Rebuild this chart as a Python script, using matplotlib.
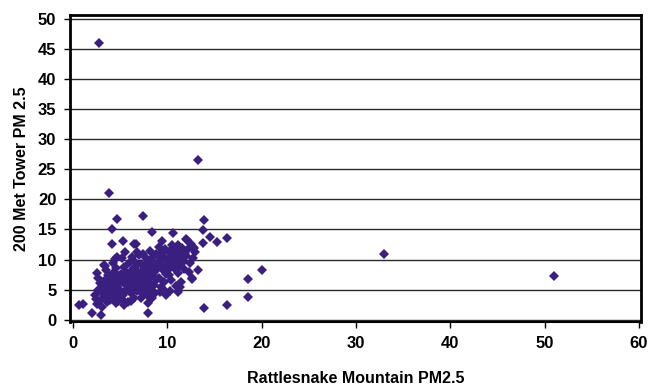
import matplotlib.pyplot as plt

# PM2.5 paired readings: Rattlesnake Mountain (x) vs 200 Met Tower (y)
rattlesnake = [
    2.8, 13.3, 3.85, 33.0, 51.0, 20.0, 18.5, 18.6, 16.3, 13.9, 16.3, 13.9, 13.8, 15.3, 14.5,
    12.1, 12.7, 13.8, 7.4, 4.7, 4.1, 8.4, 10.6, 4.1, 5.3, 6.5, 6.7, 9.4, 12.0, 4.7, 7.0,
    3.4, 2.5, 0.6, 1.1, 2.0, 3.0, 7.9, 13.3, 12.6, 11.1, 11.1, 9.9, 7.9, 2.4,
    # x 2-3
    2.3, 2.6, 2.8, 2.9, 3.0, 2.5, 3.1, 2.7,
    # x 3-4
    3.2, 3.3, 3.4, 3.5, 3.6, 3.7, 3.8, 3.9, 3.5, 3.9, 3.3, 3.6,
    # x 4-5
    4.0, 4.1, 4.2, 4.3, 4.4, 4.5, 4.6, 4.7, 4.8, 4.9, 4.2, 4.6, 4.8, 4.3, 4.9, 4.5,
    # x 5-6
    5.0, 5.1, 5.2, 5.3, 5.4, 5.5, 5.6, 5.7, 5.8, 5.9, 5.1, 5.3, 5.6, 5.8, 5.2, 5.9, 5.5, 5.4,
    # x 6-7
    6.0, 6.1, 6.2, 6.3, 6.4, 6.5, 6.6, 6.7, 6.8, 6.9, 6.2, 6.4, 6.6, 6.8, 6.1, 6.9, 6.3, 6.7,
    # x 7-8
    7.0, 7.1, 7.2, 7.3, 7.4, 7.5, 7.6, 7.7, 7.8, 7.9, 7.2, 7.4, 7.6, 7.8, 7.1, 7.5, 7.9, 7.3,
    # x 8-9
    8.0, 8.1, 8.2, 8.3, 8.4, 8.5, 8.6, 8.7, 8.8, 8.9, 8.2, 8.4, 8.6, 8.8, 8.1, 8.9,
    # x 9-10
    9.0, 9.1, 9.2, 9.3, 9.4, 9.5, 9.6, 9.7, 9.8, 9.9, 9.2, 9.5, 9.8, 9.1, 9.6,
    # x 10-11
    10.0, 10.1, 10.2, 10.3, 10.4, 10.5, 10.6, 10.7, 10.8, 10.9, 10.2, 10.5, 10.8, 10.3, 10.9,
    # x 11-12
    11.0, 11.2, 11.3, 11.5, 11.6, 11.8, 11.9, 11.1, 11.4, 11.7, 11.3,
    # x 12-13
    12.0, 12.2, 12.4, 12.5, 12.7, 12.9, 12.3, 12.6, 12.8,
    # extra readings in the densest part
    4.4, 5.0, 5.7, 6.0, 6.5, 7.0, 7.7, 8.3, 8.7, 9.3, 9.9, 10.6, 11.5, 3.8, 5.4, 6.8,
]

met_tower = [
    46.0, 26.5, 21.0, 10.9, 7.3, 8.3, 6.8, 3.8, 2.5, 2.0, 13.6, 16.6, 14.9, 12.9, 13.7,
    13.2, 12.1, 12.7, 17.2, 16.7, 15.1, 14.6, 14.4, 12.6, 13.1, 12.6, 12.6, 13.1, 13.4, 10.4, 10.8,
    8.9, 7.8, 2.5, 2.6, 1.2, 0.8, 1.2, 8.3, 6.8, 7.8, 4.6, 4.1, 2.8, 3.5,
    4.2, 5.0, 3.2, 6.1, 4.6, 2.6, 2.2, 7.0,
    5.4, 3.8, 6.6, 4.9, 2.9, 7.4, 5.9, 4.1, 8.2, 3.3, 9.1, 6.2,
    5.2, 6.8, 3.6, 7.9, 4.5, 6.0, 2.8, 5.6, 7.2, 4.0, 9.5, 8.6, 3.2, 5.9, 6.4, 10.1,
    5.0, 7.6, 3.5, 6.3, 8.8, 4.6, 5.8, 7.0, 3.0, 9.4, 6.5, 4.2, 8.0, 6.2, 10.3, 4.9, 11.2, 2.5,
    6.6, 4.4, 8.3, 5.4, 7.4, 3.6, 9.6, 6.0, 4.8, 8.0, 10.5, 5.9, 7.0, 11.2, 3.2, 5.3, 6.9, 9.0,
    7.5, 5.2, 9.2, 6.3, 4.3, 8.4, 6.9, 10.2, 5.8, 7.8, 3.6, 11.0, 4.8, 9.4, 6.6, 5.5, 3.9, 8.0,
    8.6, 6.2, 9.8, 5.0, 7.3, 10.5, 8.0, 4.4, 9.1, 6.7, 11.4, 3.6, 5.7, 10.9, 7.6, 8.5,
    9.6, 7.0, 10.8, 5.4, 8.4, 11.4, 6.2, 9.0, 10.2, 7.6, 4.6, 8.8, 11.8, 12.1, 5.0,
    10.0, 8.2, 11.2, 9.2, 6.6, 10.6, 11.9, 8.6, 9.8, 5.6, 7.4, 12.4, 10.9, 4.8, 11.6,
    10.4, 9.0, 11.4, 10.0, 12.0, 8.4, 11.0, 12.5, 6.3, 9.6, 5.4,
    10.6, 11.8, 9.4, 12.6, 10.2, 11.2, 8.0, 7.0, 12.0,
    5.5, 6.9, 5.2, 7.8, 5.0, 6.1, 7.2, 8.9, 7.0, 9.9, 8.8, 9.4, 11.1, 4.7, 7.3, 6.3,
]

x_ticks = [0, 10, 20, 30, 40, 50, 60]
y_ticks = [0, 5, 10, 15, 20, 25, 30, 35, 40, 45, 50]

plt.rcParams['font.family'] = 'Liberation Sans'

fig = plt.figure(figsize=(6.5, 3.92), dpi=100)
ax = fig.add_axes([0.108, 0.178, 0.878, 0.785])

ax.set_axisbelow(True)
for y in y_ticks:
    ax.axhline(y, color='#2a2a2a', lw=1.0, zorder=0)

ax.plot(rattlesnake, met_tower, linestyle='none', marker='D', markersize=5.6,
        color='#3a1f80', markeredgewidth=0, zorder=3)

ax.set_xlim(-0.3, 60.2)
ax.set_ylim(-0.4, 50.7)
ax.set_xticks(x_ticks)
ax.set_yticks(y_ticks)

for side in ['left', 'top', 'right']:
    ax.spines[side].set_linewidth(2)
ax.spines['bottom'].set_linewidth(1.5)
ax.tick_params(direction='out', length=4, width=1, labelsize=12, pad=6)
for lbl in ax.get_xticklabels() + ax.get_yticklabels():
    lbl.set_fontweight('bold')

ax.set_xlabel('Rattlesnake Mountain PM2.5', fontsize=11.5, fontweight='bold', labelpad=14)
ax.set_ylabel('200 Met Tower PM 2.5', fontsize=11.5, fontweight='bold', labelpad=6)

fig.savefig('out.png', dpi=100)
